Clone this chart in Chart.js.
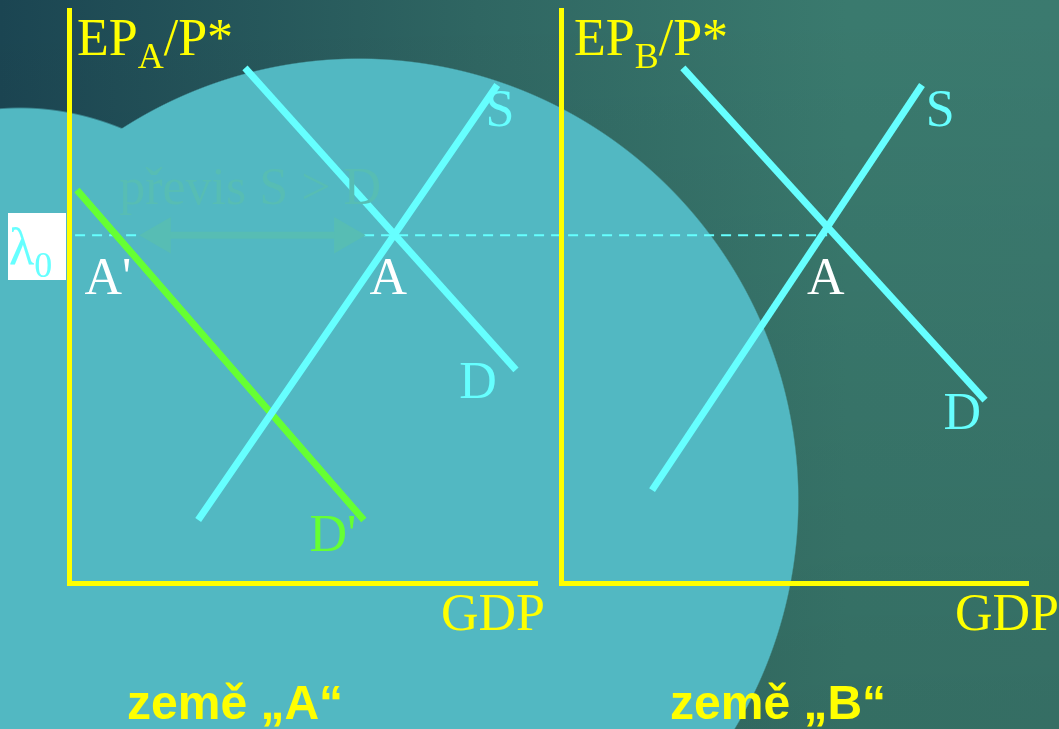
<!DOCTYPE html>
<html>
<head>
<meta charset="utf-8">
<script src="https://cdn.jsdelivr.net/npm/chart.js@4"></script>
<style>
  html, body { margin: 0; padding: 0; }
  body {
    width: 1059px; height: 729px; overflow: hidden; position: relative;
    background:
      radial-gradient(ellipse 440px 442px at 359px 500px, #52b8c2 99.7%, rgba(82,184,194,0) 100%),
      radial-gradient(ellipse 400px 622px at 20px 729px, #52b8c2 99.7%, rgba(82,184,194,0) 100%),
      linear-gradient(to bottom, rgba(0,0,0,0) 0%, rgba(0,0,0,0.1) 100%),
      linear-gradient(to right, #1b4552 0%, #2f6662 45%, #3a7a6e 80%, #3b7a6f 100%);
  }
  canvas { position: absolute; left: 0; top: 0; }
  .t { position: absolute; white-space: nowrap; color: #ffff00; }
  .serif { font-family: "Liberation Serif", "DejaVu Serif", serif; font-size: 52px; line-height: 52px; }
  .land { font-family: "Liberation Sans", Arial, sans-serif; font-weight: bold; font-size: 48px; line-height: 48px; }
  .sub { font-size: 36px; position: relative; top: 13px; }
  #lam { position: absolute; left: 8px; top: 213px; width: 58px; height: 67px; background: #ffffff; }
</style>
</head>
<body>
<canvas id="chartA" width="1059" height="729"></canvas>
<canvas id="chartB" width="1059" height="729"></canvas>

<div id="lam"><span class="t serif" style="left:1px; top:8px; color:#66ffff">λ<span class="sub">0</span></span></div>
<div class="t serif" style="left:77px; top:12px">EP<span class="sub">A</span>/P*</div>
<div class="t serif" style="left:574px; top:12px">EP<span class="sub">B</span>/P*</div>
<div class="t serif" style="left:441px; top:587px">GDP</div>
<div class="t serif" style="left:955px; top:587px">GDP</div>
<div class="t land" style="left:127px; top:679px">země „A“</div>
<div class="t land" style="left:670px; top:679px">země „B“</div>

<script>
// panel A (země A): x = GDP 0..10, y = EP/P* 0..10
const supplyA = [{x: 2.76, y: 1.10}, {x: 9.15, y: 8.69}];
const demandA = [{x: 3.76, y: 8.99}, {x: 9.55, y: 3.72}];
const demandA2 = [{x: 0.17, y: 6.86}, {x: 6.30, y: 1.10}];
const lambda0 = [{x: 0.13, y: 6.07}, {x: 16.2, y: 6.07}];   // runs on to panel B
const surplus = [{x: 1.95, y: 6.07}, {x: 5.89, y: 6.07}];
const labelsA = [
  {text: "A", x: 6.82, y: 5.29, color: "#ffffff"},
  {text: "A'", x: 0.83, y: 5.29, color: "#ffffff"},
  {text: "S", x: 9.21, y: 8.22, color: "#66ffff"},
  {text: "D", x: 8.74, y: 3.46, color: "#66ffff"},
  {text: "D'", x: 5.64, y: 0.80, color: "#66ff33"},
  {text: "převis S > D", x: 3.87, y: 6.86, color: "#57bdb4"}
];

// panel B (země B)
const supplyB = [{x: 1.95, y: 1.62}, {x: 7.73, y: 8.69}];
const demandB = [{x: 2.61, y: 8.99}, {x: 9.08, y: 3.19}];
const labelsB = [
  {text: "A", x: 5.67, y: 5.29, color: "#ffffff"},
  {text: "S", x: 8.12, y: 8.22, color: "#66ffff"},
  {text: "D", x: 8.59, y: 2.93, color: "#66ffff"}
];

const CYAN = "#66ffff";
const GREEN = "#66ff33";
const YELLOW = "#ffff00";

// draws the text labels at data positions
const textLabels = {
  id: "textLabels",
  afterDatasetsDraw(chart, args, opts) {
    const ctx = chart.ctx;
    ctx.save();
    ctx.font = "52px 'Liberation Serif', serif";
    ctx.textAlign = "center";
    ctx.textBaseline = "middle";
    opts.items.forEach(l => {
      ctx.fillStyle = l.color;
      ctx.fillText(l.text, chart.scales.x.getPixelForValue(l.x), chart.scales.y.getPixelForValue(l.y));
    });
    ctx.restore();
  }
};

function line(data, color, extra) {
  return Object.assign({
    data: data, borderColor: color, borderWidth: 7, showLine: true,
    pointRadius: 0, borderCapStyle: "butt"
  }, extra || {});
}

function axis() {
  return {
    type: "linear", min: 0, max: 10,
    ticks: {display: false},
    grid: {display: false, drawTicks: false},
    border: {display: true, color: YELLOW, width: 5}
  };
}

function makeChart(id, datasets, labels, padding) {
  return new Chart(document.getElementById(id), {
    type: "scatter",
    data: {datasets: datasets},
    options: {
      responsive: false,
      animation: false,
      devicePixelRatio: 1,
      layout: {padding: padding, autoPadding: false},
      plugins: {legend: {display: false}, tooltip: {enabled: false}, textLabels: {items: labels}},
      scales: {x: axis(), y: axis()}
    },
    plugins: [textLabels]
  });
}

makeChart("chartA", [
  line(surplus, "#57bdb4", {
    pointRadius: 21, pointStyle: "triangle", pointRotation: [-90, 90],
    pointBackgroundColor: "#57bdb4", pointBorderWidth: 0, clip: false
  }),
  line(supplyA, CYAN),
  line(demandA, CYAN),
  line(demandA2, GREEN),
  line(lambda0, CYAN, {borderWidth: 2, borderDash: [10, 7], clip: false})
], labelsA, {left: 69, right: 522, top: 10, bottom: 146});

makeChart("chartB", [
  line(supplyB, CYAN),
  line(demandB, CYAN)
], labelsB, {left: 561, right: 31, top: 10, bottom: 146});
</script>
</body>
</html>
